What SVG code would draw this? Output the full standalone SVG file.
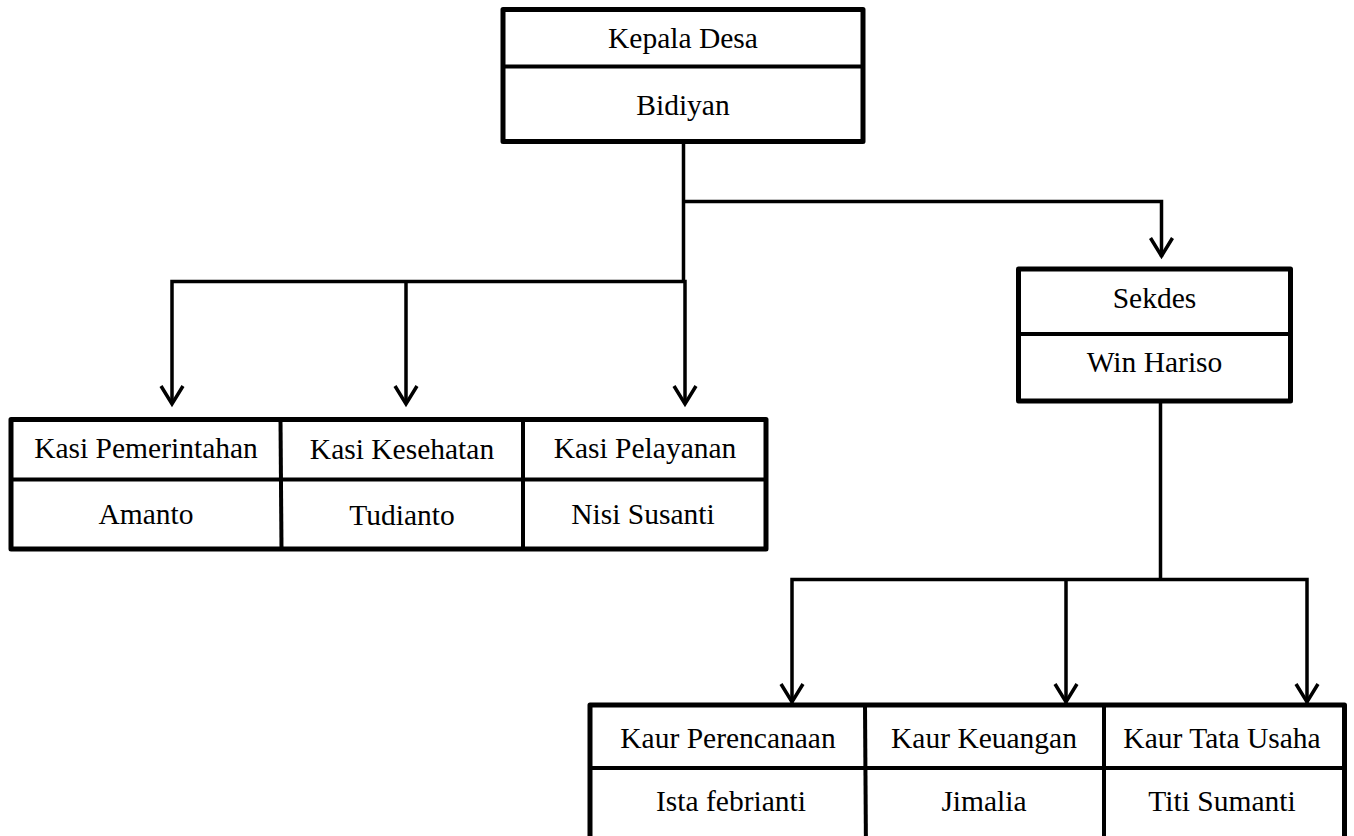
<svg xmlns="http://www.w3.org/2000/svg" width="1354" height="836" viewBox="0 0 1354 836">
<style>
.box{fill:#fff;stroke:#000;stroke-width:5;stroke-linejoin:round}
.div{stroke:#000;stroke-width:4;fill:none}
.ln{stroke:#000;stroke-width:3.5;fill:none;stroke-linecap:square}
.ah{stroke:#000;stroke-width:3.5;fill:none;stroke-linejoin:miter;stroke-linecap:butt}
text{font-family:"Liberation Serif","Times New Roman",serif;font-size:29.5px;fill:#000;text-anchor:middle}
</style>
<rect width="1354" height="836" fill="#fff"/>
<g id="connectors">
<path class="ln" d="M683.5,144 V281.5 M683.5,201.5 H1161.5 V255 M172,281.5 H685 M172,281.5 V402 M406,281.5 V402 M685,281.5 V402"/>
<path class="ln" d="M1160.5,403 V579.5 M792,579.5 H1307 M792,579.5 V701 M1066,579.5 V701 M1307,579.5 V701"/>
<g class="ah">
<polyline points="1150.5,238 1161.5,256 1172.5,238"/>
<polyline points="161,386 172,404 183,386"/>
<polyline points="395,386 406,404 417,386"/>
<polyline points="674,386 685,404 696,386"/>
<polyline points="781,684 792,702 803,684"/>
<polyline points="1055,684 1066,702 1077,684"/>
<polyline points="1296,684 1307,702 1318,684"/>
</g>
</g>
<g id="kepala-desa">
<rect class="box" x="503" y="9.5" width="360" height="132"/>
<line class="div" x1="503" y1="66.5" x2="863" y2="66.5"/>
<text x="683" y="48">Kepala Desa</text>
<text x="683" y="115">Bidiyan</text>
</g>
<g id="sekdes">
<rect class="box" x="1018.5" y="269" width="272" height="132"/>
<line class="div" x1="1018.5" y1="334" x2="1290.5" y2="334"/>
<text x="1154.5" y="308">Sekdes</text>
<text x="1154.5" y="372">Win Hariso</text>
</g>
<g id="kasi">
<rect class="box" x="11" y="419.5" width="755" height="129.5"/>
<line class="div" x1="11" y1="479.5" x2="766" y2="479.5"/>
<line class="div" x1="280.5" y1="419.5" x2="281.5" y2="549"/>
<line class="div" x1="523" y1="419.5" x2="523" y2="549"/>
<g id="kasi-pemerintahan">
<text x="146" y="458">Kasi Pemerintahan</text>
<text x="146" y="524">Amanto</text>
</g>
<g id="kasi-kesehatan">
<text x="402" y="459">Kasi Kesehatan</text>
<text x="402" y="525">Tudianto</text>
</g>
<g id="kasi-pelayanan">
<text x="645" y="458">Kasi Pelayanan</text>
<text x="643" y="524">Nisi Susanti</text>
</g>
</g>
<g id="kaur">
<rect class="box" x="590" y="705" width="754.5" height="150"/>
<line class="div" x1="590" y1="768" x2="1344.5" y2="768"/>
<line class="div" x1="865" y1="705" x2="866" y2="855"/>
<line class="div" x1="1104" y1="705" x2="1104" y2="855"/>
<g id="kaur-perencanaan">
<text x="728" y="748">Kaur Perencanaan</text>
<text x="731" y="811">Ista febrianti</text>
</g>
<g id="kaur-keuangan">
<text x="984" y="748">Kaur Keuangan</text>
<text x="984" y="811">Jimalia</text>
</g>
<g id="kaur-tata-usaha">
<text x="1222" y="748">Kaur Tata Usaha</text>
<text x="1222" y="811">Titi Sumanti</text>
</g>
</g>
</svg>
